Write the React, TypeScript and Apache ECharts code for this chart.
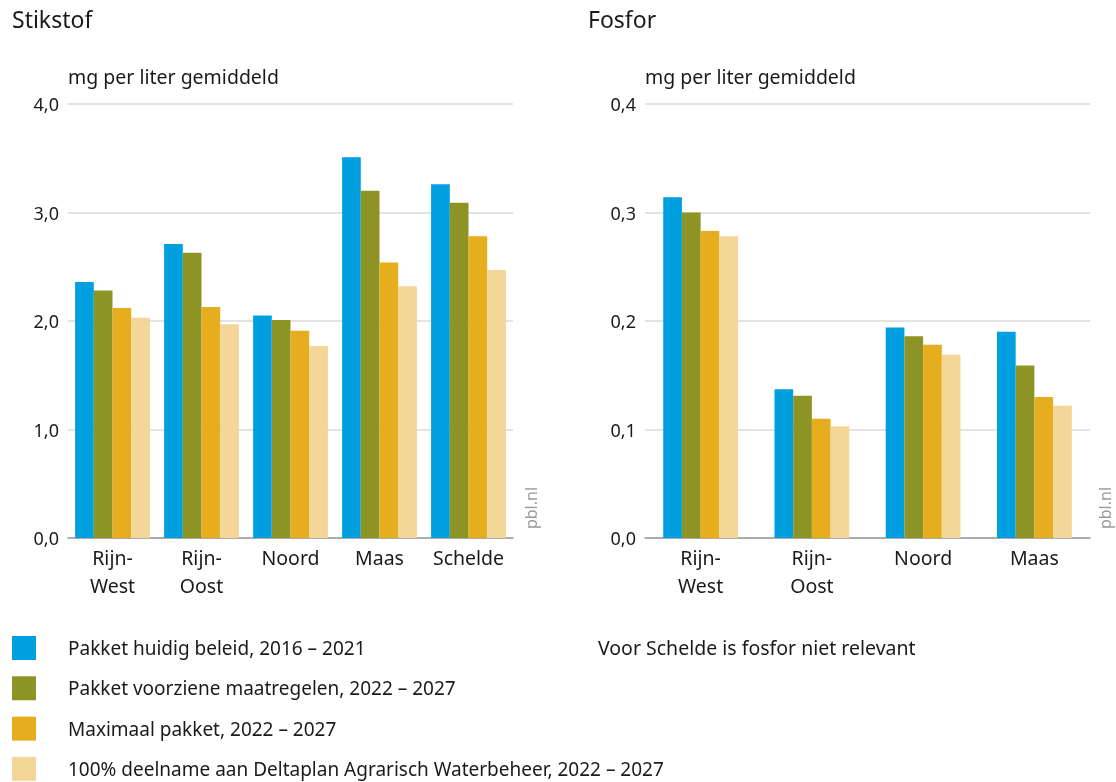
import React, { useEffect, useRef } from "react";
import * as echarts from "echarts";

const seriesNames = [
  "Pakket huidig beleid, 2016 – 2021",
  "Pakket voorziene maatregelen, 2022 – 2027",
  "Maximaal pakket, 2022 – 2027",
  "100% deelname aan Deltaplan Agrarisch Waterbeheer, 2022 – 2027",
];
const colors = ["#00a0e0", "#8e9325", "#e6ad1f", "#f3d698"];

const stikstofCategories = ["Rijn-\nWest", "Rijn-\nOost", "Noord", "Maas", "Schelde"];
const fosforCategories = ["Rijn-\nWest", "Rijn-\nOost", "Noord", "Maas"];

const stikstofHuidig = [2.36, 2.71, 2.05, 3.51, 3.26];
const stikstofVoorzien = [2.28, 2.63, 2.01, 3.2, 3.09];
const stikstofMaximaal = [2.12, 2.13, 1.91, 2.54, 2.78];
const stikstofDeltaplan = [2.03, 1.97, 1.77, 2.32, 2.47];

const fosforHuidig = [0.314, 0.137, 0.194, 0.19];
const fosforVoorzien = [0.3, 0.131, 0.186, 0.159];
const fosforMaximaal = [0.283, 0.11, 0.178, 0.13];
const fosforDeltaplan = [0.278, 0.103, 0.169, 0.122];

const stikstofTicks = [0, 1, 2, 3, 4];
const fosforTicks = [0, 0.1, 0.2, 0.3, 0.4];

const FONT = "Noto Sans";
const TEXT = "#1a1a1a";

export default function App() {
  const ref = useRef<HTMLDivElement>(null);
  useEffect(() => {
    if (!ref.current) return;
    const chart = echarts.init(ref.current, null, { renderer: "svg" });
    const stikstof = [stikstofHuidig, stikstofVoorzien, stikstofMaximaal, stikstofDeltaplan];
    const fosfor = [fosforHuidig, fosforVoorzien, fosforMaximaal, fosforDeltaplan];
    const series: any[] = [];
    seriesNames.forEach((name, i) => {
      series.push({
        type: "bar",
        name,
        xAxisIndex: 0,
        yAxisIndex: 0,
        data: stikstof[i],
        barWidth: 18.7,
        barGap: "0%",
        itemStyle: { color: colors[i] },
      });
      series.push({
        type: "bar",
        name,
        xAxisIndex: 1,
        yAxisIndex: 1,
        data: fosfor[i],
        barWidth: 18.7,
        barGap: "0%",
        itemStyle: { color: colors[i] },
      });
    });
    const xAxisCommon = {
      type: "category",
      axisLine: { show: true, lineStyle: { color: "#9a9a9a", width: 1.5 } },
      axisTick: { show: false },
      axisLabel: { color: TEXT, fontSize: 19.5, fontFamily: FONT, lineHeight: 28, margin: 5, interval: 0 },
    };
    const yAxisCommon = {
      type: "value",
      axisLine: { show: false },
      axisTick: { show: false },
      splitLine: { lineStyle: { color: "#dadada", width: 1.5 } },
      axisLabel: {
        color: TEXT,
        fontSize: 18,
        fontFamily: FONT,
        margin: 9,
        formatter: (v: number) => v.toFixed(1).replace(".", ","),
      },
    };
    chart.setOption({
      animation: false,
      textStyle: { fontFamily: FONT },
      grid: [
        { left: 68, right: 1116 - 513, top: 104, bottom: 782 - 538, containLabel: false },
        { left: 645, right: 1116 - 1090, top: 104, bottom: 782 - 538, containLabel: false },
      ],
      xAxis: [
        { ...xAxisCommon, gridIndex: 0, data: stikstofCategories },
        { ...xAxisCommon, gridIndex: 1, data: fosforCategories },
      ],
      yAxis: [
        { ...yAxisCommon, gridIndex: 0, min: stikstofTicks[0], max: stikstofTicks[4], interval: 1 },
        { ...yAxisCommon, gridIndex: 1, min: fosforTicks[0], max: fosforTicks[4], interval: 0.1 },
      ],
      legend: {
        orient: "vertical",
        left: 12,
        top: 636,
        height: 160,
        padding: 0,
        itemWidth: 24,
        itemHeight: 24,
        itemGap: 16.3,
        icon: "rect",
        data: seriesNames,
        selectedMode: false,
        textStyle: { color: TEXT, fontSize: 19, fontFamily: FONT, padding: [0, 0, 0, 27] },
      },
      graphic: [
        { type: "text", left: 12, top: 7, style: { text: "Stikstof", fontSize: 23, fontFamily: FONT, fill: TEXT } },
        { type: "text", left: 588, top: 7, style: { text: "Fosfor", fontSize: 23, fontFamily: FONT, fill: TEXT } },
        { type: "text", left: 68, top: 66, style: { text: "mg per liter gemiddeld", fontSize: 19.5, fontFamily: FONT, fill: TEXT } },
        { type: "text", left: 645, top: 66, style: { text: "mg per liter gemiddeld", fontSize: 19.5, fontFamily: FONT, fill: TEXT } },
        { type: "text", left: 598, top: 637, style: { text: "Voor Schelde is fosfor niet relevant", fontSize: 19.5, fontFamily: FONT, fill: TEXT } },
        {
          type: "text", x: 531, y: 508, rotation: Math.PI / 2,
          style: { text: "pbl.nl", fontSize: 16, fontFamily: FONT, fill: "#9a9a9a", align: "center", verticalAlign: "middle" },
        },
        {
          type: "text", x: 1105, y: 508, rotation: Math.PI / 2,
          style: { text: "pbl.nl", fontSize: 16, fontFamily: FONT, fill: "#9a9a9a", align: "center", verticalAlign: "middle" },
        },
      ],
      series,
    });
    return () => chart.dispose();
  }, []);
  return <div ref={ref} style={{ position: "fixed", left: 0, top: 0, width: 1116, height: 782 }} />;
}
